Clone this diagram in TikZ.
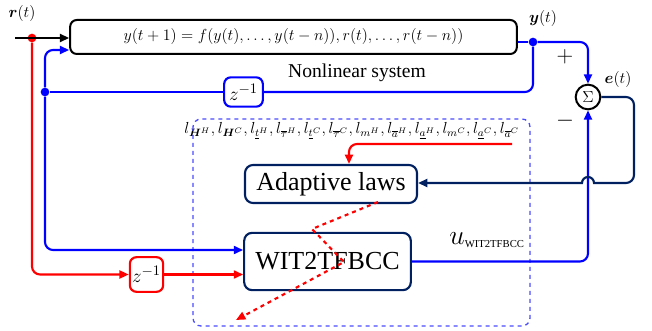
\documentclass[tikz,border=0pt]{standalone}
\usepackage{amsmath,bm}
\usepackage{fontspec}
\setmainfont{Liberation Serif}
\usetikzlibrary{arrows.meta, positioning, calc}
\definecolor{navy}{RGB}{0,32,96}

\begin{document}
\begin{tikzpicture}[x=0.75pt, y=-0.75pt]
\tikzstyle{sysbox} = [rectangle, draw, rounded corners=5pt, line width=1.5pt, minimum width=335pt, minimum height=25.5pt, font=\fontsize{11.5}{13}\selectfont]
\tikzstyle{ctrlbox} = [rectangle, draw=navy, rounded corners=6pt, line width=1.6pt, font=\fontsize{19.5}{22}\selectfont]
\tikzstyle{delay} = [rectangle, rounded corners=5pt, line width=1.6pt, inner sep=0pt, font=\fontsize{15}{17}\selectfont]
\tikzstyle{sig} = [line width=1.6pt, rounded corners=6pt, -{Triangle[length=7pt, width=6pt]}]
\tikzstyle{lbl} = [font=\fontsize{12}{14}\selectfont]
\tikzstyle{dot} = [circle, inner sep=0pt, minimum size=6.5pt]

\useasboundingbox (0,0) rectangle (652,331);

% blocks
\node (plant) [sysbox] at (293.5,37) {$y(t+1)=f(y(t),\dots,y(t-n)),r(t),\dots,r(t-n))$};
\node (nlsys) [font=\fontsize{14.7}{16}\selectfont] at (357,73) {Nonlinear system};
\node (sum) [circle, draw, line width=1.5pt, minimum size=18.5pt, inner sep=0pt, font=\fontsize{13}{15}\selectfont] at (588,97) {$\Sigma$};
\node (zfb) [delay, draw=blue, minimum width=29pt, minimum height=22pt] at (243.5,92) {$z^{-1}$};
\node (adapt) [ctrlbox, minimum width=129pt, minimum height=28.5pt] at (331,184) {Adaptive laws};
\node (ctrl) [ctrlbox, minimum width=125pt, minimum height=43pt] at (327.5,261.5) {WIT2TFBCC};
\node (zref) [delay, draw=red, minimum width=25pt, minimum height=26pt] at (146.5,274.5) {$z^{-1}$};

% labels
\node (rlbl) [lbl] at (22,14) {$\bm{r}(t)$};
\node (ylbl) [lbl] at (543,19) {$\bm{y}(t)$};
\node (elbl) [lbl] at (618,80) {$\bm{e}(t)$};
\node (plus) [font=\fontsize{16}{18}\selectfont] at (565,57) {$+$};
\node (minus) [font=\fontsize{16}{18}\selectfont] at (565,121) {$-$};
\node (ulbl) [font=\fontsize{12}{14}\selectfont] at (487,240) {$\text{\fontsize{20}{22}\selectfont$u$}_{\text{WIT2TFBCC}}$};
\node (params) [font=\fontsize{12}{14}\selectfont] at (352,131)
  {$l_{\bm{H}^{H}},l_{\bm{H}^{C}},l_{\underline{t}^{H}},l_{\overline{\tau}^{H}},l_{\underline{t}^{C}},l_{\overline{\tau}^{C}},l_{m^{H}},l_{\overline{a}^{H}},l_{\underline{a}^{H}},l_{m^{C}},l_{\underline{a}^{C}},l_{\overline{a}^{C}}$};

% learning frame
\draw [blue!70, dashed, line width=1pt, rounded corners=6pt] (193,119) rectangle (530,326);

% coordinates
\coordinate (rin) at (15,38);
\node (rdot) [dot, fill=red] at (32,38) {};
\node (ydot) [dot, fill=blue] at (533,42) {};
\node (fbdot) [dot, fill=blue] at (45,92) {};
\coordinate (parend) at (512,144);
\coordinate (tune1) at (378,202);
\coordinate (tune2) at (312,229);
\coordinate (tune3) at (344,262);
\coordinate (tune4) at (236,320);

% signals
\draw [sig] (rin) -- (plant.west |- rin);
\draw [sig, red] (rdot) |- (zref.west);
\draw [sig, red] (zref.east) -- (ctrl.west |- zref.east);
\draw [line width=1.6pt, blue] (plant.east |- ydot) -- (ydot);
\draw [sig, blue] (ydot) -| (sum.north);
\draw [line width=1.6pt, blue, rounded corners=6pt] (ydot) |- (zfb.east);
\draw [line width=1.6pt, blue] (zfb.west) -- (fbdot);
\draw [sig, blue] (fbdot) |- (plant.west |- 0,50);
\draw [sig, blue] (fbdot) |- (ctrl.west |- 0,250);
\draw [sig, blue] (ctrl.east) -| (sum.south);
\draw [sig, navy] (sum.east) -| (634,183) -- (604,183) [sharp corners] -- (594,183) arc[start angle=0, end angle=-180, radius=6] -- (adapt.east |- 0,183);
\draw [sig, red] (parend) -| (adapt.north -| 349,0);
\draw [red, dashed, line width=1.6pt, -{Triangle[length=7pt, width=6pt]}] (tune1) -- (tune2) -- (tune3) -- (tune4);

\end{tikzpicture}
\end{document}
